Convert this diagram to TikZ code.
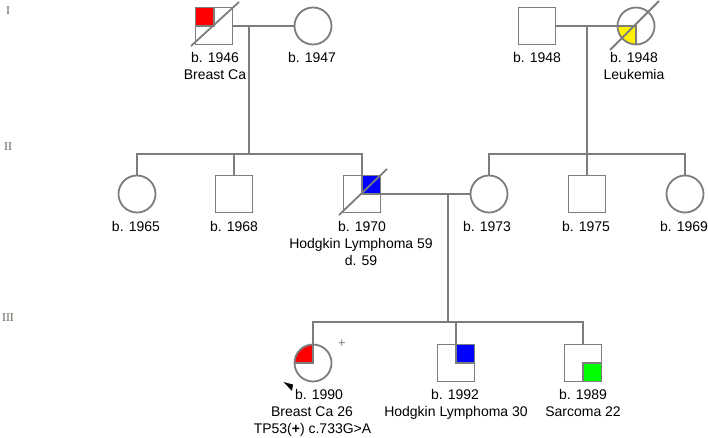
\documentclass[tikz,border=0pt]{standalone}
\usepackage{fontspec}
\setmainfont{Liberation Sans}
\newfontfamily\genfont{Liberation Serif}
\usetikzlibrary{calc}
\definecolor{lc}{RGB}{125,125,125}
\definecolor{gc}{RGB}{105,98,90}
\tikzset{
 ind/.style={draw=lc, line width=1.8pt, minimum size=37pt, inner sep=0pt, outer sep=0pt},
 male/.style={ind, rectangle},
 female/.style={ind, circle},
 aff/.style n args={4}{path picture={
   \fill[#1] (path picture bounding box.center) rectangle (path picture bounding box.#2);
   \draw[lc, line width=1.8pt] (path picture bounding box.#3) -- (path picture bounding box.center) -- (path picture bounding box.#4);
 }},
 conn/.style={draw=lc, line width=1.8pt},
 dec/.style={draw=lc, line width=1.8pt},
 lab/.style={anchor=base, inner sep=0pt, font=\fontsize{14}{17}\selectfont},
 gen/.style={anchor=base, inner sep=0pt, text=gc, font=\genfont\fontsize{12}{14}\selectfont},
}
\begin{document}
\begin{tikzpicture}[x=1pt,y=-1pt]
\useasboundingbox (0,0) rectangle (708,438);

% individuals
\node[male, aff={red}{north west}{north}{west}] (p1) at (214,26) {};
\node[female] (p2) at (313,26) {};
\node[male] (p3) at (537,26) {};
\node[female, aff={yellow}{south west}{south}{west}] (p4) at (636,26) {};
\node[female] (p5) at (137,194) {};
\node[male] (p6) at (234,194) {};
\node[male, aff={blue}{north east}{north}{east}] (p7) at (362,194) {};
\node[female] (p8) at (489,194) {};
\node[male] (p9) at (587,194) {};
\node[female] (p10) at (685,194) {};
\node[female, aff={red}{north west}{north}{west}] (p11) at (313,363) {};
\node[male, aff={blue}{north east}{north}{east}] (p12) at (456,363) {};
\node[male, aff={green}{south east}{south}{east}] (p13) at (583,363) {};

% junctions
\coordinate (m1) at (249,26);
\coordinate (s1) at (249,154);
\coordinate (m2) at (587,26);
\coordinate (s2) at (587,154);
\coordinate (m3) at (448,194);
\coordinate (s3) at (448,322);

% connectors
\draw[conn] (p1) -- (p2);
\draw[conn] (m1) -- (s1);
\draw[conn] (p5.north) |- (s1) -| (p7.north);
\draw[conn] (p6) -- (p6 |- s1);
\draw[conn] (p3) -- (p4);
\draw[conn] (m2) -- (s2);
\draw[conn] (p8.north) |- (s2) -| (p10.north);
\draw[conn] (p9) -- (p9 |- s2);
\draw[conn] (p7) -- (p8);
\draw[conn] (m3) -- (s3);
\draw[conn] (p11.north) |- (s3) -| (p13.north);
\draw[conn] (p12) -- (p12 |- s3);

% deceased marks
\draw[dec] ($(p1)+(-23,20)$) -- ($(p1)+(25,-24)$);
\draw[dec] ($(p7)+(-23,21)$) -- ($(p7)+(25,-25)$);
\draw[dec] ($(p4)+(-26,24)$) -- ($(p4)+(23,-25)$);

% proband arrow and carrier sign
\fill[black] (283.5,382) -- (293,384.5) -- (292,391) -- cycle;
\node[font=\fontsize{13}{13}\selectfont, text=lc, inner sep=0pt] (plus) at (342,344) {+};

% generation labels
\node[gen] (g1) at (8,15) {I};
\node[gen] (g2) at (8,151) {II};
\node[gen] (g3) at (8,321) {III};

% labels
\node[lab] (t1a) at (215,63) {b. 1946};
\node[lab] (t1b) at (215,80) {Breast Ca};
\node[lab] (t2) at (312,63) {b. 1947};
\node[lab] (t3) at (537,63) {b. 1948};
\node[lab] (t4a) at (634,63) {b. 1948};
\node[lab] (t4b) at (634,80) {Leukemia};

\node[lab] (t5) at (136,231) {b. 1965};
\node[lab] (t6) at (234,231) {b. 1968};
\node[lab] (t7a) at (362,231) {b. 1970};
\node[lab] (t7b) at (361,248) {Hodgkin Lymphoma 59};
\node[lab] (t7c) at (361,265) {d. 59};
\node[lab] (t8) at (487,231) {b. 1973};
\node[lab] (t9) at (586,231) {b. 1975};
\node[lab] (t10) at (684,231) {b. 1969};

\node[lab] (t11a) at (319,399) {b. 1990};
\node[lab] (t11b) at (312,416) {Breast Ca 26};
\node[lab] (t11c) at (312.5,433) {TP53(\textbf{+}) c.733G>A};
\node[lab] (t12a) at (455,399) {b. 1992};
\node[lab] (t12b) at (456,416) {Hodgkin Lymphoma 30};
\node[lab] (t13a) at (583,399) {b. 1989};
\node[lab] (t13b) at (583,416) {Sarcoma 22};
\end{tikzpicture}
\end{document}
